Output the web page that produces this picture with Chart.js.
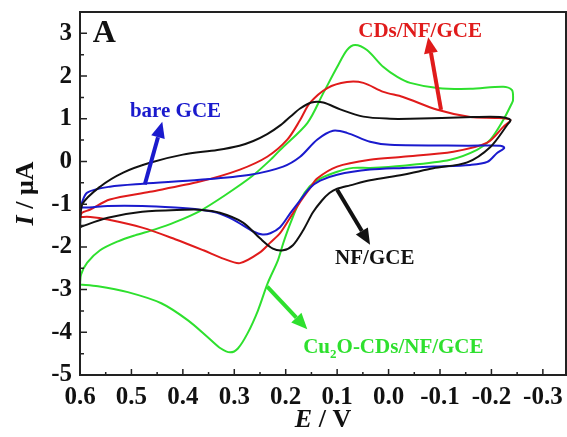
<!DOCTYPE html>
<html>
<head>
<meta charset="utf-8">
<script src="https://cdn.jsdelivr.net/npm/chart.js@4.4.0/dist/chart.umd.min.js"></script>
<style>
html,body{margin:0;padding:0;background:#fff;}
</style>
</head>
<body>
<canvas id="myChart" width="567" height="437"></canvas>
<script>
// tick labels
const xTicks=[0.6,0.5,0.4,0.3,0.2,0.1,0.0,-0.1,-0.2,-0.3];
const yTicks=[3,2,1,0,-1,-2,-3,-4,-5];

// bare GCE (blue)
const bareE=[0.598,0.586,0.542,0.477,0.367,0.269,0.205,0.172,0.139,0.108,0.081,0.036,-0.003,-0.153,-0.217,-0.225,
	-0.211,-0.192,-0.159,-0.087,-0.028,0.036,0.100,0.133,0.153,0.172,0.191,0.211,0.230,0.245,0.263,0.302,0.333,0.367,0.415,0.479,0.546,0.596,0.598];
const bareI=[-1.01,-0.73,-0.59,-0.52,-0.43,-0.31,-0.12,0.11,0.51,0.72,0.67,0.46,0.39,0.37,0.37,0.32,
	0.20,-0.01,-0.08,-0.12,-0.15,-0.19,-0.31,-0.45,-0.62,-0.91,-1.21,-1.54,-1.68,-1.71,-1.64,-1.36,-1.20,-1.13,-1.08,-1.04,-1.04,-1.08,-1.01];

// NF/GCE (black)
const nfE=[0.600,0.596,0.561,0.516,0.464,0.400,0.333,0.290,0.263,0.236,0.210,0.190,0.172,0.150,0.127,0.094,0.049,-0.003,-0.042,-0.165,-0.217,-0.237,
	-0.231,-0.198,-0.153,-0.087,-0.028,0.036,0.075,0.100,0.115,0.130,0.147,0.166,0.186,0.205,0.225,0.250,0.283,0.328,0.367,0.396,0.479,0.546,0.596,0.600];
const nfI=[-1.55,-1.01,-0.59,-0.26,-0.03,0.16,0.27,0.37,0.48,0.64,0.85,1.06,1.24,1.38,1.38,1.22,1.05,1.00,1.00,1.04,1.04,0.97,
	0.86,0.34,-0.02,-0.16,-0.31,-0.44,-0.56,-0.64,-0.74,-0.92,-1.19,-1.61,-1.96,-2.08,-2.04,-1.80,-1.43,-1.20,-1.13,-1.13,-1.18,-1.32,-1.52,-1.55];

// CDs/NF/GCE (red)
const cdE=[0.600,0.596,0.581,0.542,0.464,0.367,0.289,0.236,0.197,0.172,0.153,0.119,0.081,0.049,0.010,-0.028,-0.095,-0.159,-0.211,-0.237,
	-0.223,-0.192,-0.126,-0.028,0.036,0.100,0.139,0.153,0.172,0.191,0.211,0.230,0.250,0.289,0.320,0.360,0.415,0.479,0.546,0.580,0.600];
const cdI=[-1.30,-1.20,-1.13,-0.89,-0.71,-0.47,-0.19,0.11,0.51,0.97,1.37,1.72,1.86,1.84,1.63,1.51,1.21,1.04,1.02,0.97,
	0.81,0.44,0.23,0.11,0.04,-0.12,-0.40,-0.63,-0.95,-1.31,-1.68,-1.90,-2.13,-2.38,-2.28,-2.08,-1.82,-1.55,-1.36,-1.30,-1.30];

// Cu2O-CDs/NF/GCE (green)
const cuE=[0.600,0.598,0.586,0.561,0.526,0.493,0.454,0.415,0.367,0.318,0.265,0.226,0.211,0.158,0.127,0.100,0.081,0.065,0.042,0.010,-0.017,-0.042,-0.095,-0.159,-0.223,-0.240,-0.242,
	-0.240,-0.223,-0.198,-0.172,-0.120,-0.028,0.036,0.069,0.100,0.133,0.153,0.172,0.191,0.205,0.215,0.235,0.254,0.274,0.293,0.308,0.326,0.351,0.390,0.442,0.507,0.565,0.600];
const cuI=[-2.88,-2.65,-2.37,-2.08,-1.87,-1.73,-1.59,-1.42,-1.16,-0.79,-0.34,0.08,0.27,0.90,1.60,2.21,2.61,2.73,2.61,2.21,1.98,1.84,1.72,1.70,1.75,1.67,1.44,
	1.37,0.97,0.51,0.27,0.04,-0.10,-0.15,-0.15,-0.24,-0.40,-0.58,-0.91,-1.45,-1.92,-2.31,-2.85,-3.49,-4.02,-4.38,-4.47,-4.38,-4.12,-3.72,-3.32,-3.06,-2.92,-2.88];

const serif='"Liberation Serif","Times New Roman",serif';

function pts(e,i){return e.map((v,k)=>({x:v,y:i[k]}));}

function series(label,e,i,color){
	return {label:label,data:pts(e,i),showLine:true,borderColor:color,backgroundColor:color,
		borderWidth:2,pointRadius:0,tension:0.3,fill:false};
}

// annotations: [E, I] anchors on the data scales
const notes=[
	{text:'bare GCE',at:[0.503,1.16],color:'#1a1acd',from:[0.474,-0.54],to:[0.440,0.93]},
	{text:'CDs/NF/GCE',at:[0.059,3.03],color:'#e01b1b',from:[-0.102,1.21],to:[-0.077,2.91]},
	{text:'NF/GCE',at:[0.104,-2.27],color:'#111111',from:[0.100,-0.66],to:[0.036,-1.95]},
	{text:'Cu|2|O-CDs/NF/GCE',at:[0.166,-4.35],color:'#2ee02e',from:[0.236,-2.93],to:[0.158,-3.93]}
];

function arrow(ctx,x1,y1,x2,y2,color){
	const a=Math.atan2(y2-y1,x2-x1),hl=16,hw=7;
	const bx=x2-hl*Math.cos(a),by=y2-hl*Math.sin(a);
	ctx.strokeStyle=color;ctx.fillStyle=color;ctx.lineWidth=4;
	ctx.beginPath();ctx.moveTo(x1,y1);ctx.lineTo(bx,by);ctx.stroke();
	ctx.beginPath();ctx.moveTo(x2,y2);
	ctx.lineTo(bx+hw*Math.sin(a),by-hw*Math.cos(a));
	ctx.lineTo(bx-hw*Math.sin(a),by+hw*Math.cos(a));
	ctx.closePath();ctx.fill();
}

const decor={
	id:'decor',
	afterDraw(chart){
		const ctx=chart.ctx,a=chart.chartArea,xs=chart.scales.x,ys=chart.scales.y;
		ctx.save();
		// frame
		ctx.strokeStyle='#222';ctx.lineWidth=2;
		ctx.strokeRect(a.left,a.top,a.right-a.left,a.bottom-a.top);
		// inside ticks
		ctx.lineWidth=1.5;
		ctx.beginPath();
		for(let k=0;k<=18;k++){
			const v=0.6-k*0.05,px=xs.getPixelForValue(v),len=k%2==0?6:3;
			ctx.moveTo(px,a.bottom);ctx.lineTo(px,a.bottom-len);
		}
		for(let k=0;k<=16;k++){
			const v=-5+k*0.5,py=ys.getPixelForValue(v),len=k%2==0?7:4;
			ctx.moveTo(a.left,py);ctx.lineTo(a.left+len,py);
		}
		ctx.stroke();
		// panel letter
		ctx.fillStyle='#111';ctx.textBaseline='middle';ctx.textAlign='left';
		ctx.font='bold 32px '+serif;
		ctx.fillText('A',xs.getPixelForValue(0.575),ys.getPixelForValue(3.0));
		// arrows and labels
		notes.forEach(n=>{
			arrow(ctx,xs.getPixelForValue(n.from[0]),ys.getPixelForValue(n.from[1]),
				xs.getPixelForValue(n.to[0]),ys.getPixelForValue(n.to[1]),n.color);
			ctx.fillStyle=n.color;
			let x=xs.getPixelForValue(n.at[0]);const y=ys.getPixelForValue(n.at[1]);
			n.text.split('|').forEach((part,k)=>{
				if(k==1){
					ctx.font='bold 13px '+serif;ctx.fillText(part,x,y+7);
				}else{
					ctx.font='bold 21px '+serif;ctx.fillText(part,x,y);
				}
				x+=ctx.measureText(part).width;
			});
		});
		// axis titles
		ctx.fillStyle='#111';
		const xt=[['E','italic bold 26px '],[' / V','bold 26px ']];
		let w=0;xt.forEach(p=>{ctx.font=p[1]+serif;w+=ctx.measureText(p[0]).width;});
		let x=(a.left+a.right)/2-w/2;
		xt.forEach(p=>{ctx.font=p[1]+serif;ctx.fillText(p[0],x,420);x+=ctx.measureText(p[0]).width;});
		ctx.translate(26,(a.top+a.bottom)/2);ctx.rotate(-Math.PI/2);
		const yt=[['I','italic bold 26px '],[' / μA','bold 26px ']];
		w=0;yt.forEach(p=>{ctx.font=p[1]+serif;w+=ctx.measureText(p[0]).width;});
		x=-w/2;
		yt.forEach(p=>{ctx.font=p[1]+serif;ctx.fillText(p[0],x,0);x+=ctx.measureText(p[0]).width;});
		ctx.restore();
	}
};

function noPad(s){s.paddingTop=0;s.paddingBottom=0;s.paddingLeft=0;s.paddingRight=0;}

const ctx=document.getElementById('myChart');

new Chart(ctx,{
	type:'scatter',
	data:{
		datasets:[
			series('NF/GCE',nfE,nfI,'#111111'),
			series('bare GCE',bareE,bareI,'#1a1acd'),
			series('CDs/NF/GCE',cdE,cdI,'#e01b1b'),
			series('Cu2O-CDs/NF/GCE',cuE,cuI,'#2ee02e')
		]
	},
	options:{
		responsive:false,
		animation:false,
		layout:{padding:{top:12,right:1,left:0,bottom:0}},
		plugins:{legend:{display:false},tooltip:{enabled:false}},
		scales:{
			x:{
				type:'linear',reverse:true,min:-0.345,max:0.6,
				grid:{display:false,drawTicks:false},border:{display:false},
				afterBuildTicks:s=>{s.ticks=xTicks.map(v=>({value:v}));},
				afterFit:s=>{s.height=62;noPad(s);},
				ticks:{color:'#111',padding:8,maxRotation:0,autoSkip:false,
					font:{family:serif,size:25,weight:'bold'},
					callback:v=>v.toFixed(1)}
			},
			y:{
				min:-5,max:3.5,
				grid:{display:false,drawTicks:false},border:{display:false},
				afterBuildTicks:s=>{s.ticks=yTicks.map(v=>({value:v}));},
				afterFit:s=>{s.width=80;noPad(s);},
				ticks:{color:'#111',padding:8,autoSkip:false,
					font:{family:serif,size:25,weight:'bold'},
					callback:v=>String(v)}
			}
		}
	},
	plugins:[decor]
});
</script>
</body>
</html>
